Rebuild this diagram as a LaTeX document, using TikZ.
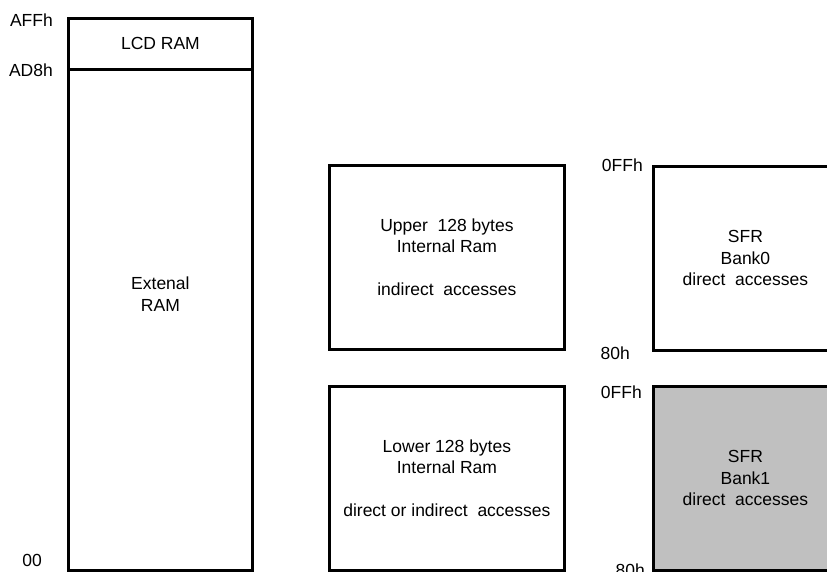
\documentclass[tikz,border=0pt]{standalone}
\usepackage{fontspec}
\setmainfont{Liberation Sans}
\usetikzlibrary{positioning}
\definecolor{sfrgray}{RGB}{192,192,192}

\begin{document}
\begin{tikzpicture}[
    x=1pt, y=-1pt,
    box/.style={draw, line width=2.8pt, align=center, inner sep=0pt,
                font=\fontsize{17.5}{21.5}\selectfont, anchor=north west},
    addr/.style={font=\fontsize{17.5}{21.5}\selectfont, inner sep=0pt, anchor=east},
]
\useasboundingbox (0,0) rectangle (827,572);
\clip (0,0) rectangle (827,572);

% ---- Externi RAM ----
\node[box, minimum width=184pt, minimum height=552pt] at (67,17) (ext) {Extenal\\RAM};
\node[box, minimum width=184pt, minimum height=51pt] at (ext.north west) (lcd) {LCD RAM};
\node[addr] at ([xshift=-14pt, yshift=-3pt]ext.north west) (affh) {AFFh};
\node[addr] at ([xshift=-14pt, yshift=1pt]lcd.south west) (ad8h) {AD8h};
\node[addr] at ([xshift=-25pt, yshift=11pt]ext.south west) (zero) {00};

% ---- Interni RAM ----
\node[box, minimum width=235pt, minimum height=184pt] at (328,164) (upper)
  {Upper~~128 bytes\\Internal Ram\\[21.5pt]indirect~~accesses};
\node[box, minimum width=235pt, minimum height=184pt] at (328,385) (lower)
  {Lower 128 bytes\\Internal Ram\\[21.5pt]direct or indirect~~accesses};

% ---- SFR banke ----
\node[box, minimum width=184pt, minimum height=184pt] at (652,165) (bank0)
  {SFR\\Bank0\\direct~~accesses};
\node[box, fill=sfrgray, minimum width=184pt, minimum height=184pt] at (652,385) (bank1)
  {SFR\\Bank1\\direct~~accesses};

\node[addr] at ([xshift=-9pt]bank0.north west) (top0) {0FFh};
\node[addr] at ([xshift=-22pt, yshift=-1pt]bank0.south west) (bot0) {80h};
\node[addr] at ([xshift=-10pt, yshift=-7pt]bank1.north west) (top1) {0FFh};
\node[addr] at ([xshift=-7pt, yshift=2pt]bank1.south west) (bot1) {80h};

\end{tikzpicture}
\end{document}
